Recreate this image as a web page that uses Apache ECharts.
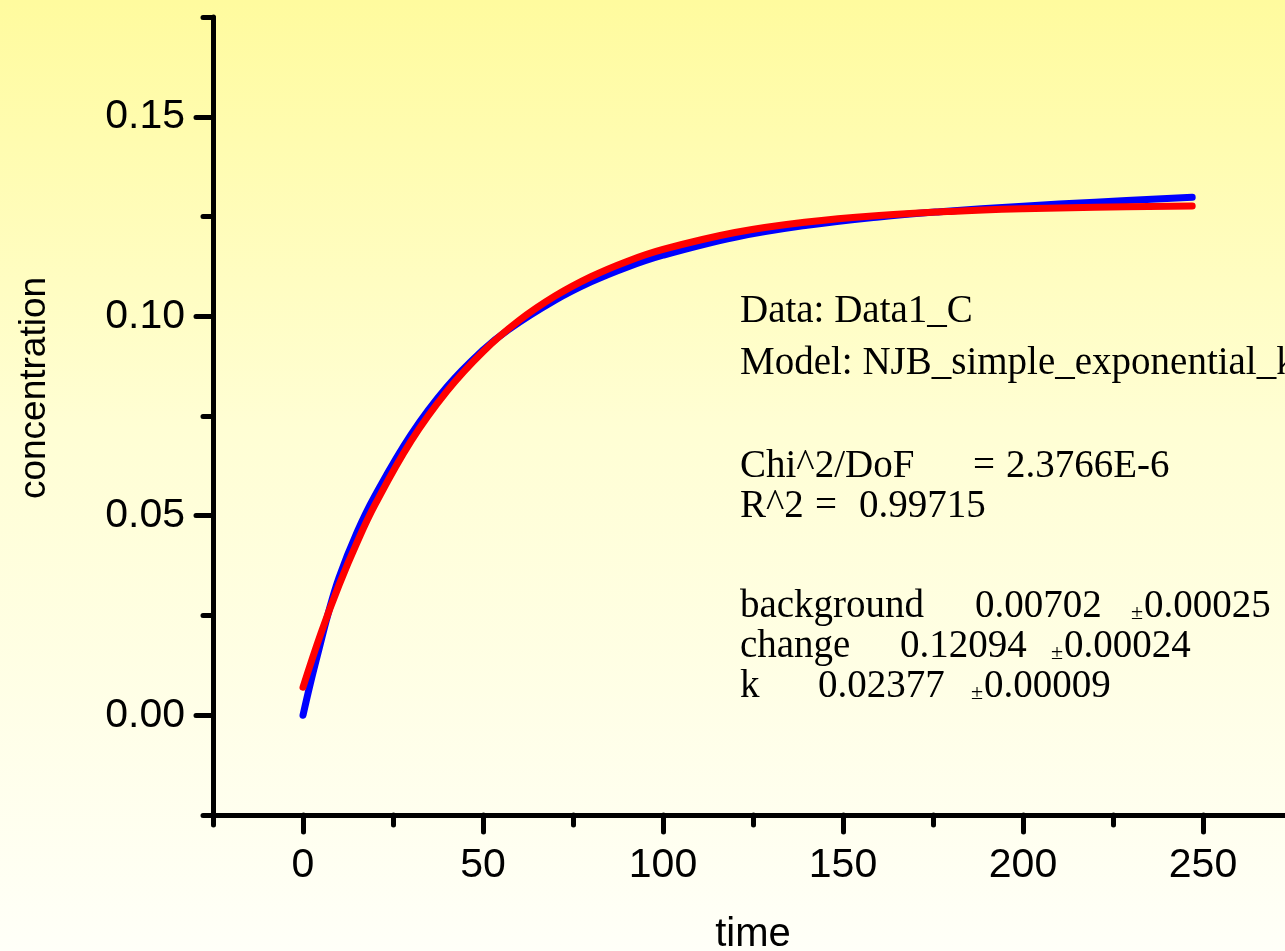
<!DOCTYPE html>
<html>
<head>
<meta charset="utf-8">
<script src="https://cdn.jsdelivr.net/npm/echarts@6/dist/echarts.min.js"></script>
<style>html,body{margin:0;padding:0;}#c{width:1285px;height:951px;}</style>
</head>
<body>
<div id="c"></div>
<script>
// measured data (blue)
const dataTime = [0, 2, 4, 7, 10, 15, 20, 30, 40, 50, 57, 70, 80, 90, 100, 120, 140, 160, 177, 200, 220, 247];
const dataConc = [0.0000, 0.0078, 0.0150, 0.0255, 0.0345, 0.0458, 0.0550, 0.0703, 0.0823, 0.0915, 0.0966, 0.1040, 0.1086, 0.1123, 0.1153, 0.1198, 0.1228, 0.1249, 0.1262, 0.1276, 0.1286, 0.1298];
// fitted curve (red)
const fitTime = [0, 5, 10, 15, 20, 30, 40, 50, 60, 70, 80, 90, 100, 120, 140, 160, 180, 200, 220, 247];
const fitConc = [0.00702, 0.02058, 0.03261, 0.04329, 0.05278, 0.06869, 0.08123, 0.09111, 0.09891, 0.10505, 0.10990, 0.11373, 0.11674, 0.12098, 0.12362, 0.12526, 0.12628, 0.12692, 0.12731, 0.12762];
// ticks
const xMajorTicks = [0, 50, 100, 150, 200, 250];
const xMinorTicks = [-25, 25, 75, 125, 175, 225, 275];
const yMajorTicks = [0, 0.05, 0.10, 0.15];
const yMinorTicks = [-0.025, 0.025, 0.075, 0.125, 0.175];
// annotation text
const infoLines = [
  ['Data: Data1_C', 740, 312],
  ['Model: NJB_simple_exponential_k', 740, 364],
  ['Chi^2/DoF', 740, 467],
  ['=', 973, 467],
  ['2.3766E-6', 1006, 467],
  ['R^2', 740, 507],
  ['=', 815, 507],
  ['0.99715', 859, 507],
  ['background', 740, 607],
  ['0.00702', 975, 607],
  ['0.00025', 1144, 607],
  ['change', 740, 647],
  ['0.12094', 900, 647],
  ['0.00024', 1064, 647],
  ['k', 740, 687],
  ['0.02377', 818, 687],
  ['0.00009', 984, 687]
];
const pmMarks = [[1131, 613], [1051, 653], [971, 693]];

const chart = echarts.init(document.getElementById('c'), null, {renderer: 'canvas'});
const sans = 'Liberation Sans';
const serif = 'Liberation Serif';

const graphics = [];
infoLines.forEach(function (l) {
  graphics.push({type: 'text', x: l[1], y: l[2], z: 100,
    style: {text: l[0], fontFamily: serif, fontSize: 39, fill: '#000', align: 'left', verticalAlign: 'middle'}});
});
pmMarks.forEach(function (p) {
  graphics.push({type: 'text', x: p[0], y: p[1], z: 100,
    style: {text: '±', fontFamily: serif, fontSize: 22, fill: '#000', align: 'left', verticalAlign: 'middle'}});
});
graphics.push({type: 'text', x: 35, y: 388, rotation: Math.PI / 2, z: 100,
  style: {text: 'concentration', fontFamily: sans, fontSize: 37, fill: '#000', align: 'center', verticalAlign: 'middle'}});

const tickStyle = {color: '#000', width: 5, cap: 'round'};

chart.setOption({
  backgroundColor: {type: 'linear', x: 0, y: 0, x2: 0, y2: 1,
    colorStops: [{offset: 0, color: '#FFFB9E'}, {offset: 0.45, color: '#FFFED4'}, {offset: 1, color: '#FFFFF8'}]},
  animation: false,
  grid: {left: 213, top: 17, width: 1080, height: 798, containLabel: false, outerBoundsMode: 'none'},
  xAxis: [
    {type: 'value', min: -25, max: 275, interval: 25, position: 'bottom',
      name: 'time', nameLocation: 'middle', nameGap: 100,
      nameTextStyle: {fontFamily: sans, fontSize: 40, color: '#000'},
      axisLine: {show: true, onZero: false, lineStyle: tickStyle},
      axisTick: {show: true, inside: false, length: 17, customValues: xMajorTicks, lineStyle: tickStyle},
      axisLabel: {show: true, customValues: xMajorTicks, margin: 30, fontFamily: sans, fontSize: 41, color: '#000'},
      splitLine: {show: false}},
    {type: 'value', min: -25, max: 275, interval: 25, position: 'bottom', offset: 0,
      axisLine: {show: false, onZero: false},
      axisTick: {show: true, inside: false, length: 10, customValues: xMinorTicks, lineStyle: tickStyle},
      axisLabel: {show: false},
      splitLine: {show: false}}
  ],
  yAxis: [
    {type: 'value', min: -0.025, max: 0.175, interval: 0.025, position: 'left',
      axisLine: {show: true, onZero: false, lineStyle: tickStyle},
      axisTick: {show: true, inside: false, length: 17, customValues: yMajorTicks, lineStyle: tickStyle},
      axisLabel: {show: true, customValues: yMajorTicks, margin: 28, fontFamily: sans, fontSize: 41, color: '#000',
        formatter: function (v) { return v.toFixed(2); }},
      splitLine: {show: false}},
    {type: 'value', min: -0.025, max: 0.175, interval: 0.025, position: 'left', offset: 0,
      axisLine: {show: false, onZero: false},
      axisTick: {show: true, inside: false, length: 10, customValues: yMinorTicks, lineStyle: tickStyle},
      axisLabel: {show: false},
      splitLine: {show: false}}
  ],
  series: [
    {type: 'line', name: 'data', xAxisIndex: 0, yAxisIndex: 0, smooth: 0.4, showSymbol: false, symbol: 'none',
      lineStyle: {color: '#0000FF', width: 7, cap: 'round', join: 'round'},
      data: dataTime.map(function (t, i) { return [t, dataConc[i]]; }), z: 2},
    {type: 'line', name: 'fit', xAxisIndex: 0, yAxisIndex: 0, smooth: 0.4, showSymbol: false, symbol: 'none',
      lineStyle: {color: '#FF0000', width: 7, cap: 'round', join: 'round'},
      data: fitTime.map(function (t, i) { return [t, fitConc[i]]; }), z: 3}
  ],
  graphic: graphics
});
</script>
</body>
</html>
